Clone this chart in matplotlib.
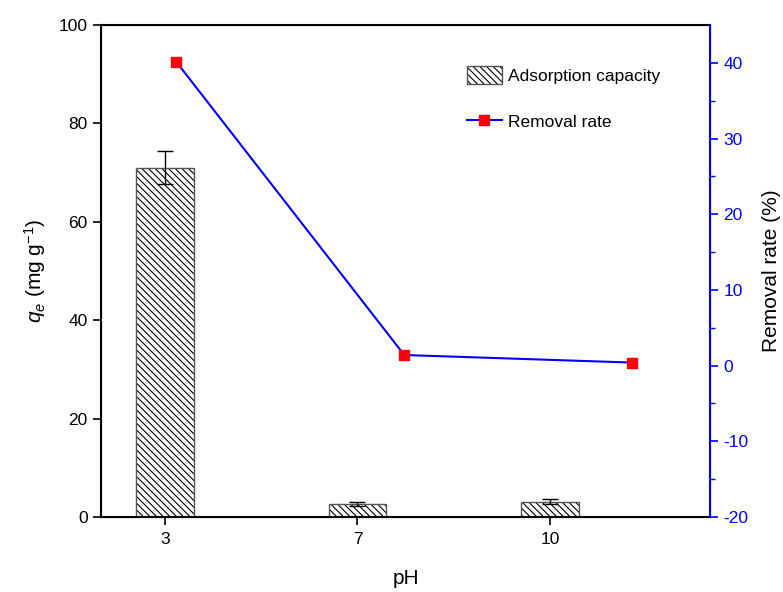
import matplotlib
matplotlib.use('Agg')
import matplotlib.pyplot as plt
import numpy as np

plt.rcParams['font.family'] = ['Liberation Sans', 'DejaVu Sans']
plt.rcParams['mathtext.fontset'] = 'custom'
plt.rcParams['mathtext.rm'] = 'Liberation Sans'
plt.rcParams['mathtext.it'] = 'Liberation Sans:italic'
plt.rcParams['hatch.linewidth'] = 0.8
plt.rcParams['axes.unicode_minus'] = False

# data
ph_labels = ['3', '7', '10']
capacity = [71.0, 2.7, 3.1]         # qe, mg/g
capacity_err = [3.3, 0.4, 0.5]
removal = [40.1, 1.4, 0.4]          # removal rate, %

fig = plt.figure(figsize=(7.83, 5.92), dpi=100)
ax = fig.add_axes([0.129, 0.1267, 0.7778, 0.8311])

idx = np.arange(len(ph_labels))
bars = ax.bar(idx, capacity, width=0.30, color='white', edgecolor='#555555',
              hatch='\\\\\\\\\\', linewidth=1.0, label='Adsorption capacity',
              zorder=2)
for b in bars:
    b._hatch_color = (0, 0, 0, 1)
ax.errorbar(idx, capacity, yerr=capacity_err, fmt='none', ecolor='black',
            elinewidth=1.0, capsize=6, capthick=1.0, zorder=3)

ax.set_xlim(-0.332, 2.831)
ax.set_ylim(0, 100)
ax.set_xticks(idx)
ax.set_xticklabels(ph_labels)
ax.set_yticks(np.arange(0, 101, 20))
ax.tick_params(axis='both', direction='out', length=6, width=1.2, labelsize=12.5)
ax.tick_params(axis='x', pad=5)
for s in ['left', 'bottom', 'top']:
    ax.spines[s].set_linewidth(1.5)
ax.set_xlabel('pH', fontsize=15, labelpad=16)
ax.set_ylabel(r'$q_e$ (mg g$^{-1}$)', fontsize=15, labelpad=8)

ax2 = ax.twinx()
# line sits on its own (wider) x spacing in the original
line_x = 0.06 + idx * 1.183
ln, = ax2.plot(line_x, removal, color='blue', linewidth=1.5, marker='s',
               markersize=7.5, markerfacecolor='red', markeredgecolor='red',
               label='Removal rate', zorder=4)
ax2.set_ylim(-20, 45)
ax2.set_yticks(np.arange(-20, 41, 10))
ax2.set_yticks(np.arange(-15, 45, 10), minor=True)
ax2.tick_params(axis='y', which='major', direction='out', length=6, width=1.2,
                colors='blue', labelsize=12.5)
ax2.tick_params(axis='y', which='minor', direction='out', length=3.5, width=1.0,
                colors='blue')
ax2.spines['right'].set_color('blue')
ax2.spines['right'].set_linewidth(1.5)
ax2.set_ylabel('Removal rate (%)', fontsize=15, labelpad=10)

ax.legend([bars, ln], ['Adsorption capacity', 'Removal rate'], frameon=False,
          loc='upper left', bbox_to_anchor=(0.575, 0.948), fontsize=12.5,
          labelspacing=1.65, handlelength=2.0, handleheight=1.2,
          handletextpad=0.4)

fig.savefig('out.png', dpi=100)
